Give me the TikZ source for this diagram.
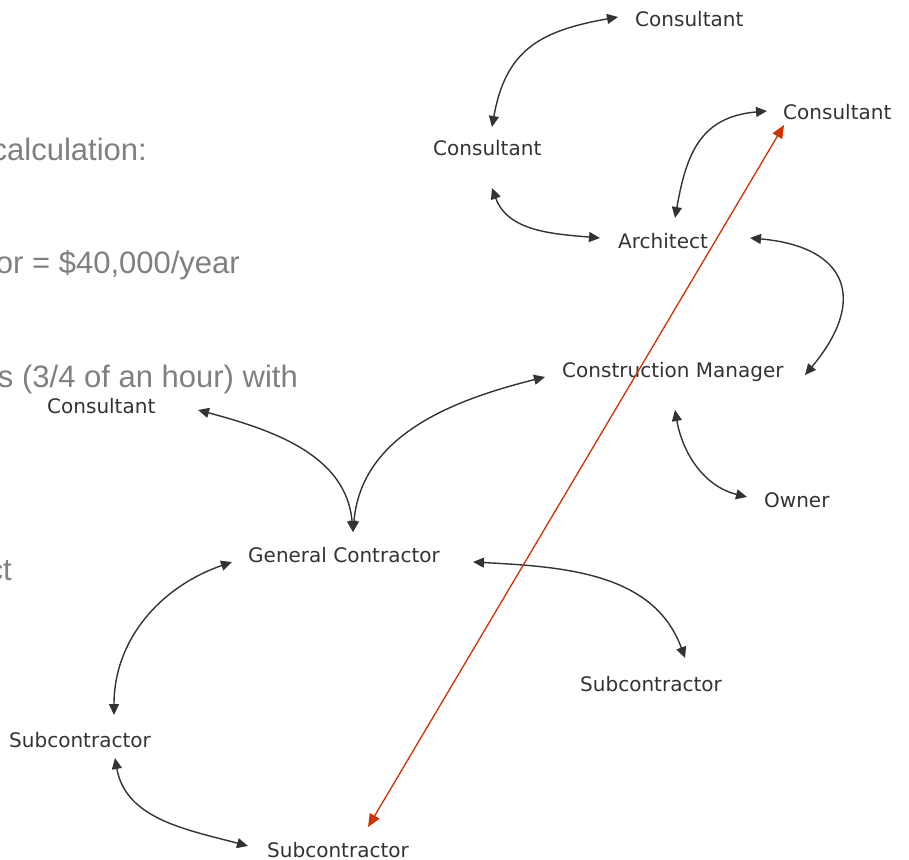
\documentclass[tikz,border=0pt]{standalone}
\usepackage{fontspec}
\setmainfont{Liberation Sans}
\newfontfamily\rolefont{DejaVu Sans}
\usetikzlibrary{arrows.meta}
\definecolor{slidegray}{RGB}{128,128,128}
\definecolor{linkred}{RGB}{204,51,0}

\begin{document}
\begin{tikzpicture}[x=1pt,y=1pt,
    role/.style={anchor=base west, inner sep=0pt, font=\rolefont\fontsize{20}{24}\selectfont, text=black!80},
    note/.style={anchor=base east, inner sep=0pt, font=\fontsize{31}{37}\selectfont, text=slidegray},
    link/.style={{Triangle[length=11pt,width=10pt]}-{Triangle[length=11pt,width=10pt]}, line width=1.4pt, draw=black!80},
    redlink/.style={{Triangle[length=13pt,width=11pt]}-{Triangle[length=13pt,width=11pt]}, line width=1.3pt, draw=linkred}]

    \useasboundingbox (0,0) rectangle (909,-859);
    \clip (0,0) rectangle (909,-859);

    % Slide text showing behind the diagram
    \node[note] (t1) at (147,-160) {calculation:};
    \node[note] (t2) at (240,-273) {or = \$40,000/year};
    \node[note] (t3) at (298,-387) {s (3/4 of an hour) with};
    \node[note] (t4) at (12,-580) {ct};

    % Design side
    \node[role] (c1) at (635,-27) {Consultant};
    \node[role] (c2) at (433,-155) {Consultant};
    \node[role] (c3) at (783,-119) {Consultant};
    \node[role] (arch) at (618,-248) {Architect};
    \node[role] (cm) at (562,-377) {Construction Manager};
    \node[role] (owner) at (764,-507) {Owner};

    % Construction side
    \node[role] (c4) at (47,-413) {Consultant};
    \node[role] (gc) at (248,-562) {General Contractor};
    \node[role] (sub1) at (580,-691) {Subcontractor};
    \node[role] (sub2) at (9,-747) {Subcontractor};
    \node[role] (sub3) at (267,-857) {Subcontractor};

    % Two-way links
    \draw[link] ([shift={(59,28)}]c2.base west) to[out=80,in=190,looseness=1.2] ([shift={(-17,10)}]c1.base west);
    \draw[link] ([shift={(59,-33)}]c2.base west) to[out=-70,in=175] ([shift={(-18,10)}]arch.base west);
    \draw[link] ([shift={(57,30)}]arch.base west) to[out=80,in=185,looseness=1.2] ([shift={(-16,8)}]c3.base west);
    \draw[link] ([shift={(132,10)}]arch.base west) to[out=-5,in=50,looseness=1.7] ([shift={(243,2)}]cm.base west);
    \draw[link] ([shift={(113,-33)}]cm.base west) to[out=-80,in=166] ([shift={(-17,10)}]owner.base west);
    \draw[link] ([shift={(105,30)}]gc.base west) to[out=95,in=-15] ([shift={(151,3)}]c4.base west);
    \draw[link] ([shift={(105,30)}]gc.base west) to[out=85,in=194] ([shift={(-17,0)}]cm.base west);
    \draw[link] ([shift={(225,0)}]gc.base west) to[out=-3,in=110] ([shift={(105,33)}]sub1.base west);
    \draw[link] ([shift={(105,32)}]sub2.base west) to[out=90,in=199] ([shift={(-16,0)}]gc.base west);
    \draw[link] ([shift={(106,-11)}]sub2.base west) to[out=-80,in=165] ([shift={(-19,11)}]sub3.base west);

    % Red link across the diagram
    \draw[redlink] ([shift={(101,30)}]sub3.base west) -- ([shift={(1,-6)}]c3.base west);
\end{tikzpicture}
\end{document}
